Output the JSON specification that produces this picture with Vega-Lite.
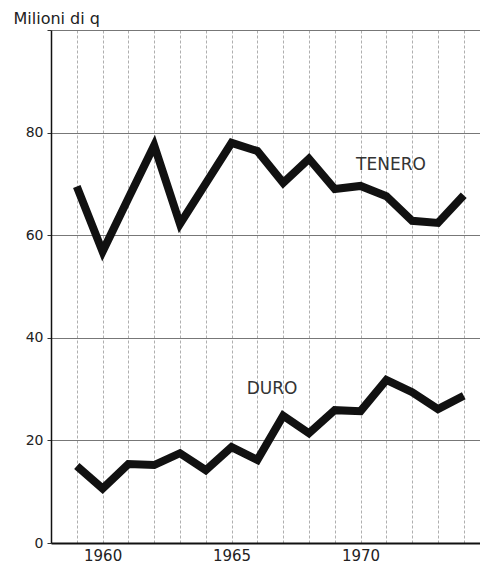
{
  "$schema": "https://vega.github.io/schema/vega-lite/v6.json",
  "width": 429,
  "height": 513,
  "autosize": {"type": "none"},
  "padding": {"left": 51, "top": 30, "right": 0, "bottom": 26},
  "background": "white",
  "config": {"view": {"stroke": null}, "font": "DejaVu Sans"},
  "datasets": {
    "serie": [
      {"anno": 1959, "grano": "TENERO", "valore": 69.5},
      {"anno": 1960, "grano": "TENERO", "valore": 56.8},
      {"anno": 1961, "grano": "TENERO", "valore": 67.2},
      {"anno": 1962, "grano": "TENERO", "valore": 77.5},
      {"anno": 1963, "grano": "TENERO", "valore": 62.2},
      {"anno": 1964, "grano": "TENERO", "valore": 70.1},
      {"anno": 1965, "grano": "TENERO", "valore": 78.0},
      {"anno": 1966, "grano": "TENERO", "valore": 76.4},
      {"anno": 1967, "grano": "TENERO", "valore": 70.2},
      {"anno": 1968, "grano": "TENERO", "valore": 74.9},
      {"anno": 1969, "grano": "TENERO", "valore": 69.0},
      {"anno": 1970, "grano": "TENERO", "valore": 69.6},
      {"anno": 1971, "grano": "TENERO", "valore": 67.6},
      {"anno": 1972, "grano": "TENERO", "valore": 62.8},
      {"anno": 1973, "grano": "TENERO", "valore": 62.4},
      {"anno": 1974, "grano": "TENERO", "valore": 67.8},
      {"anno": 1959, "grano": "DURO", "valore": 15.0},
      {"anno": 1960, "grano": "DURO", "valore": 10.6},
      {"anno": 1961, "grano": "DURO", "valore": 15.4},
      {"anno": 1962, "grano": "DURO", "valore": 15.2},
      {"anno": 1963, "grano": "DURO", "valore": 17.5},
      {"anno": 1964, "grano": "DURO", "valore": 14.2},
      {"anno": 1965, "grano": "DURO", "valore": 18.7},
      {"anno": 1966, "grano": "DURO", "valore": 16.2},
      {"anno": 1967, "grano": "DURO", "valore": 24.8},
      {"anno": 1968, "grano": "DURO", "valore": 21.4},
      {"anno": 1969, "grano": "DURO", "valore": 25.9},
      {"anno": 1970, "grano": "DURO", "valore": 25.7},
      {"anno": 1971, "grano": "DURO", "valore": 31.8},
      {"anno": 1972, "grano": "DURO", "valore": 29.4},
      {"anno": 1973, "grano": "DURO", "valore": 26.1},
      {"anno": 1974, "grano": "DURO", "valore": 28.7}
    ],
    "etichette": [
      {"testo": "TENERO", "anno": 1971.18, "valore": 73.7},
      {"testo": "DURO", "anno": 1966.57, "valore": 30.1}
    ]
  },
  "encoding": {
    "x": {
      "field": "anno",
      "type": "quantitative",
      "scale": {"domain": [1958, 1974.63], "nice": false, "zero": false},
      "axis": {
        "title": null,
        "values": [1959, 1960, 1961, 1962, 1963, 1964, 1965, 1966, 1967, 1968, 1969, 1970, 1971, 1972, 1973, 1974],
        "format": "d",
        "labelExpr": "datum.value % 5 === 0 ? datum.label : ''",
        "grid": true,
        "gridDash": [3, 2],
        "gridColor": "#9a9a9a",
        "gridWidth": 0.8,
        "ticks": false,
        "domainColor": "#111111",
        "domainWidth": 2,
        "labelFontSize": 15,
        "labelColor": "#222222",
        "labelPadding": 5,
        "labelFlush": false
      }
    },
    "y": {
      "field": "valore",
      "type": "quantitative",
      "scale": {"domain": [0, 100], "nice": false, "zero": true},
      "axis": {
        "title": "Milioni di q",
        "titleAngle": 0,
        "titleAlign": "left",
        "titleBaseline": "alphabetic",
        "titleX": -38,
        "titleY": -7,
        "titleFontSize": 16,
        "titleFontWeight": "normal",
        "titleColor": "#222222",
        "values": [0, 20, 40, 60, 80, 100],
        "labelExpr": "datum.value == 100 ? '' : datum.label",
        "grid": true,
        "gridColor": "#777777",
        "gridWidth": 1,
        "tickSize": 4,
        "tickColor": "#333333",
        "domainColor": "#111111",
        "domainWidth": 1.5,
        "labelFontSize": 14,
        "labelColor": "#222222",
        "labelPadding": 4
      }
    }
  },
  "layer": [
    {
      "data": {"name": "serie"},
      "mark": {"type": "line", "color": "#111111", "strokeWidth": 8, "strokeJoin": "miter", "strokeCap": "butt"},
      "encoding": {
        "detail": {"field": "grano"},
        "order": {"field": "anno"}
      }
    },
    {
      "data": {"name": "etichette"},
      "mark": {"type": "text", "fontSize": 17, "color": "#333333", "align": "center", "baseline": "middle"},
      "encoding": {
        "text": {"field": "testo"}
      }
    }
  ]
}
